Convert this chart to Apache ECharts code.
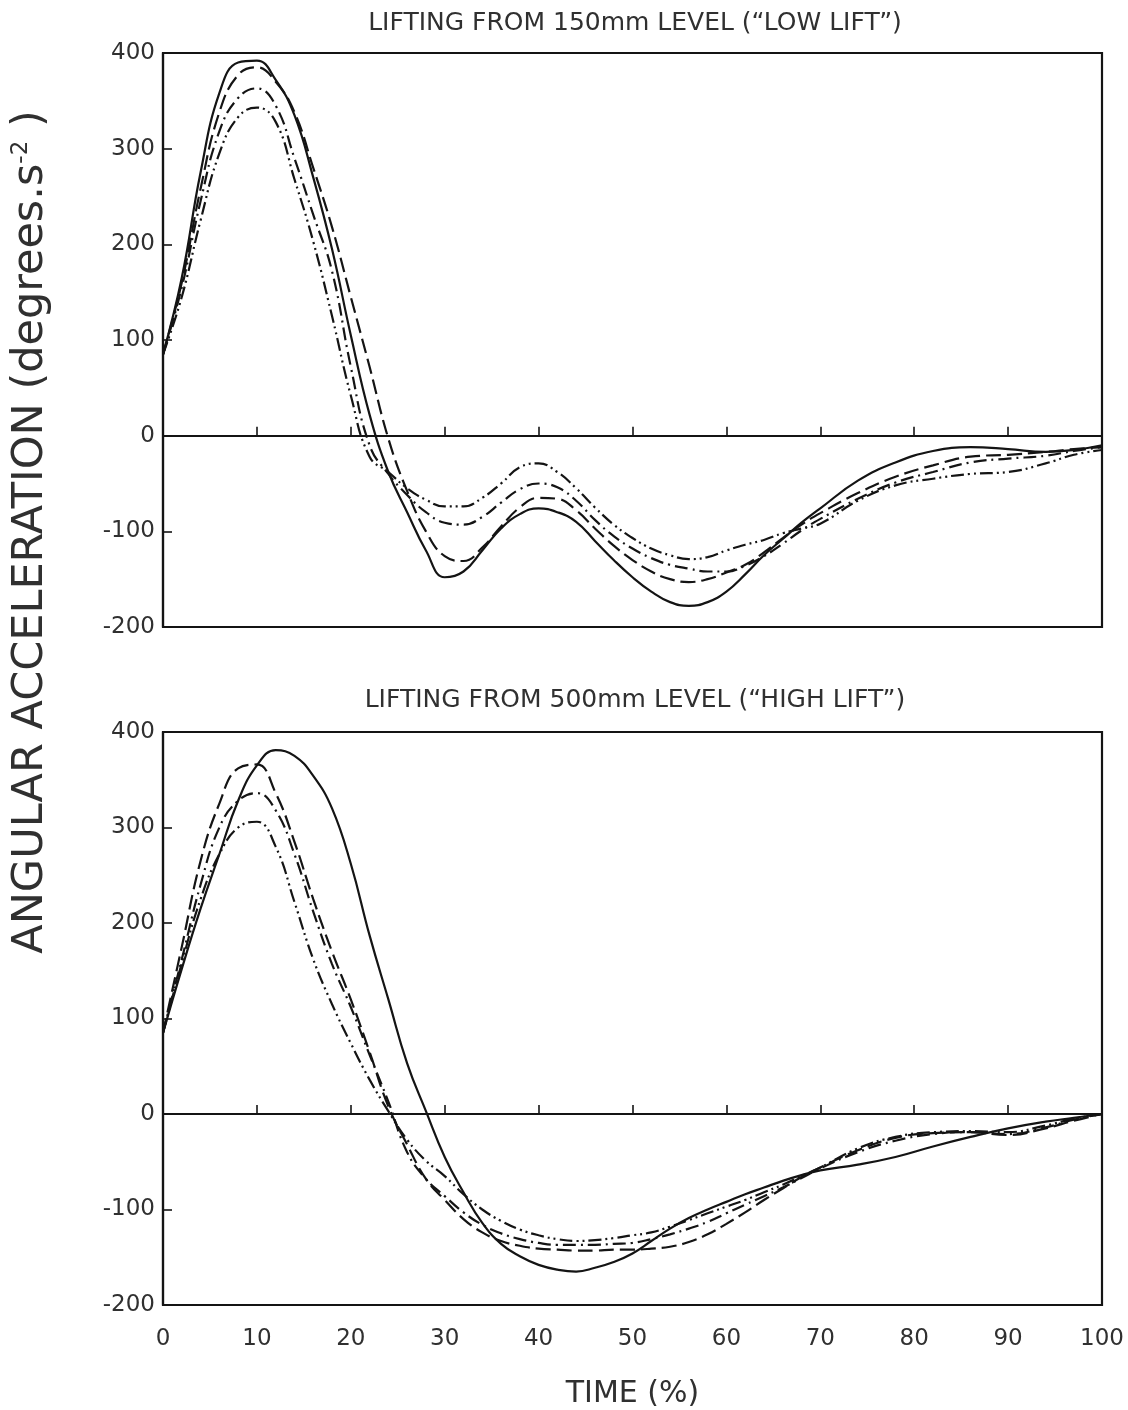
<!DOCTYPE html>
<html>
<head>
<meta charset="utf-8">
<script src="https://cdn.jsdelivr.net/npm/echarts@6/dist/echarts.min.js"></script>
<style>
html,body{margin:0;padding:0;background:#fff;}
#main{width:1128px;height:1410px;}
</style>
</head>
<body>
<div id="main"></div>
<script>
// ---- data ----
var timePct = [0,2,4,6,8,10,12,14,16,18,20,22,24,26,28,30,32,34,36,38,40,42,44,46,48,50,52,54,56,58,60,62,64,66,68,70,74,78,82,86,90,94,97,100];
var xTicks = [0,10,20,30,40,50,60,70,80,90,100];
var yTicks = [-200,-100,0,100,200,300,400];

var titleLow = 'LIFTING FROM 150mm LEVEL (\u201CLOW LIFT\u201D)';
var titleHigh = 'LIFTING FROM 500mm LEVEL (\u201CHIGH LIFT\u201D)';

// Low lift (top panel)
var lowSolid   = [85,165,275,358,390,392,372,335,270,195,105,22,-38,-80,-120,-148,-142,-120,-97,-82,-76,-80,-90,-110,-130,-148,-163,-174,-178,-174,-163,-145,-125,-108,-91,-76,-47,-28,-16,-12,-14,-17,-15,-10];
var lowDash    = [85,160,258,338,377,385,370,338,280,218,145,72,-3,-58,-100,-126,-131,-117,-95,-75,-65,-66,-78,-97,-115,-130,-142,-150,-153,-150,-143,-135,-122,-107,-93,-81,-60,-43,-31,-22,-20,-17,-14,-12];
var lowDashDot = [85,155,245,318,353,363,345,290,231,172,72,-10,-40,-62,-80,-91,-93,-85,-70,-56,-50,-54,-68,-88,-105,-118,-128,-135,-139,-142,-142,-136,-126,-113,-99,-87,-66,-49,-38,-28,-24,-21,-16,-12];
var lowDashDotDot = [85,145,225,295,333,343,328,268,203,125,42,-22,-38,-55,-67,-74,-74,-65,-50,-33,-29,-38,-55,-75,-93,-107,-118,-125,-129,-127,-120,-114,-109,-102,-97,-92,-68,-52,-45,-40,-38,-29,-20,-15];

// High lift (bottom panel)
var highSolid   = [85,152,215,272,328,365,381,375,354,320,262,187,120,53,3,-45,-82,-114,-136,-149,-158,-163,-165,-161,-155,-146,-133,-120,-109,-100,-92,-84,-77,-70,-64,-59,-53,-45,-34,-24,-15,-8,-4,0];
var highDash    = [85,175,265,325,362,366,336,285,225,170,120,65,8,-32,-68,-90,-110,-124,-133,-138,-141,-142,-143,-143,-142,-142,-141,-139,-134,-126,-115,-103,-90,-78,-66,-56,-38,-25,-20,-19,-22,-15,-7,0];
var highDashDot = [85,162,240,300,328,336,318,272,212,157,112,62,13,-40,-68,-86,-103,-116,-125,-131,-135,-137,-137,-137,-136,-135,-131,-126,-120,-113,-104,-95,-86,-77,-67,-57,-40,-28,-21,-19,-21,-14,-6,0];
var highDashDotDot = [85,158,225,272,300,306,280,222,162,115,74,36,3,-27,-49,-65,-84,-100,-112,-121,-127,-131,-133,-132,-130,-127,-124,-118,-111,-104,-97,-90,-82,-74,-65,-56,-36,-24,-19,-18,-19,-12,-5,0];

// ---- chart ----
var ink = '#141414';
var textCol = '#303030';
var fontFam = 'DejaVu Sans';
var styles = {
  solid: 'solid',
  dash: [15, 6],
  dashDot: [13, 5, 2, 5],
  dashDotDot: [13, 4, 2, 4, 2, 4]
};
function pairs(ys){ return timePct.map(function(x,i){ return [x, ys[i]]; }); }
function lineSeries(name, ys, type, gi, withZero){
  var s = {
    name: name, type: 'line', xAxisIndex: gi, yAxisIndex: gi,
    data: pairs(ys), smooth: 0.45, showSymbol: false, silent: true,
    lineStyle: { color: ink, width: 2.2, type: type },
    z: 3
  };
  if (withZero) {
    s.markLine = {
      silent: true, symbol: 'none', label: {show: false},
      lineStyle: { color: ink, width: 1.6, type: 'solid' },
      data: [{ yAxis: 0 }], z: 2
    };
  }
  return s;
}
function xAx(gi, labels){
  return {
    type: 'value', gridIndex: gi, min: xTicks[0], max: xTicks[xTicks.length-1], interval: 10,
    axisLine: { show: true, lineStyle: { color: ink, width: 2.2 } },
    axisTick: { show: true, inside: true, length: 9, lineStyle: { color: ink, width: 1.6 } },
    axisLabel: { show: labels, fontSize: 23, color: textCol, margin: 23, fontFamily: fontFam },
    splitLine: { show: false },
    name: labels ? 'TIME (%)' : '', nameLocation: 'middle', nameGap: 74,
    nameTextStyle: { fontSize: 30, color: textCol, fontFamily: fontFam }
  };
}
function yAx(gi){
  return {
    type: 'value', gridIndex: gi, min: yTicks[0], max: yTicks[yTicks.length-1], interval: 100,
    axisLine: { show: true, lineStyle: { color: ink, width: 2.2 } },
    axisTick: { show: true, inside: true, length: 9, lineStyle: { color: ink, width: 1.6 } },
    axisLabel: { fontSize: 23, color: textCol, margin: 8, fontFamily: fontFam },
    splitLine: { show: false }
  };
}

var chart = echarts.init(document.getElementById('main'), null, {renderer: 'canvas'});
chart.setOption({
  backgroundColor: '#ffffff',
  animation: false,
  title: [
    { text: titleLow, left: 630, top: 6, textAlign: 'center',
      textStyle: { fontSize: 25, fontWeight: 'normal', color: textCol, fontFamily: fontFam } },
    { text: titleHigh, left: 630, top: 683, textAlign: 'center',
      textStyle: { fontSize: 25, fontWeight: 'normal', color: textCol, fontFamily: fontFam } }
  ],
  grid: [
    { left: 163, right: 26, top: 53, height: 574, show: true, borderColor: ink, borderWidth: 2.2, backgroundColor: 'transparent' },
    { left: 163, right: 26, top: 732, height: 573, show: true, borderColor: ink, borderWidth: 2.2, backgroundColor: 'transparent' }
  ],
  xAxis: [ xAx(0, false), xAx(1, true) ],
  yAxis: [ yAx(0), yAx(1) ],
  graphic: [{
    type: 'text', x: 31, y: 532, rotation: Math.PI/2,
    style: {
      text: '{a|ANGULAR ACCELERATION (degrees.s}{b|-2}{a| )}',
      align: 'center', verticalAlign: 'middle',
      rich: {
        a: { fontSize: 43, fill: textCol, fontFamily: fontFam, verticalAlign: 'bottom' },
        b: { fontSize: 23, fill: textCol, fontFamily: fontFam, verticalAlign: 'top' }
      }
    }
  }],
  series: [
    lineSeries('Low solid', lowSolid, styles.solid, 0, true),
    lineSeries('Low dash', lowDash, styles.dash, 0, false),
    lineSeries('Low dash-dot', lowDashDot, styles.dashDot, 0, false),
    lineSeries('Low dash-dot-dot', lowDashDotDot, styles.dashDotDot, 0, false),
    lineSeries('High solid', highSolid, styles.solid, 1, true),
    lineSeries('High dash', highDash, styles.dash, 1, false),
    lineSeries('High dash-dot', highDashDot, styles.dashDot, 1, false),
    lineSeries('High dash-dot-dot', highDashDotDot, styles.dashDotDot, 1, false)
  ]
});
</script>
</body>
</html>
